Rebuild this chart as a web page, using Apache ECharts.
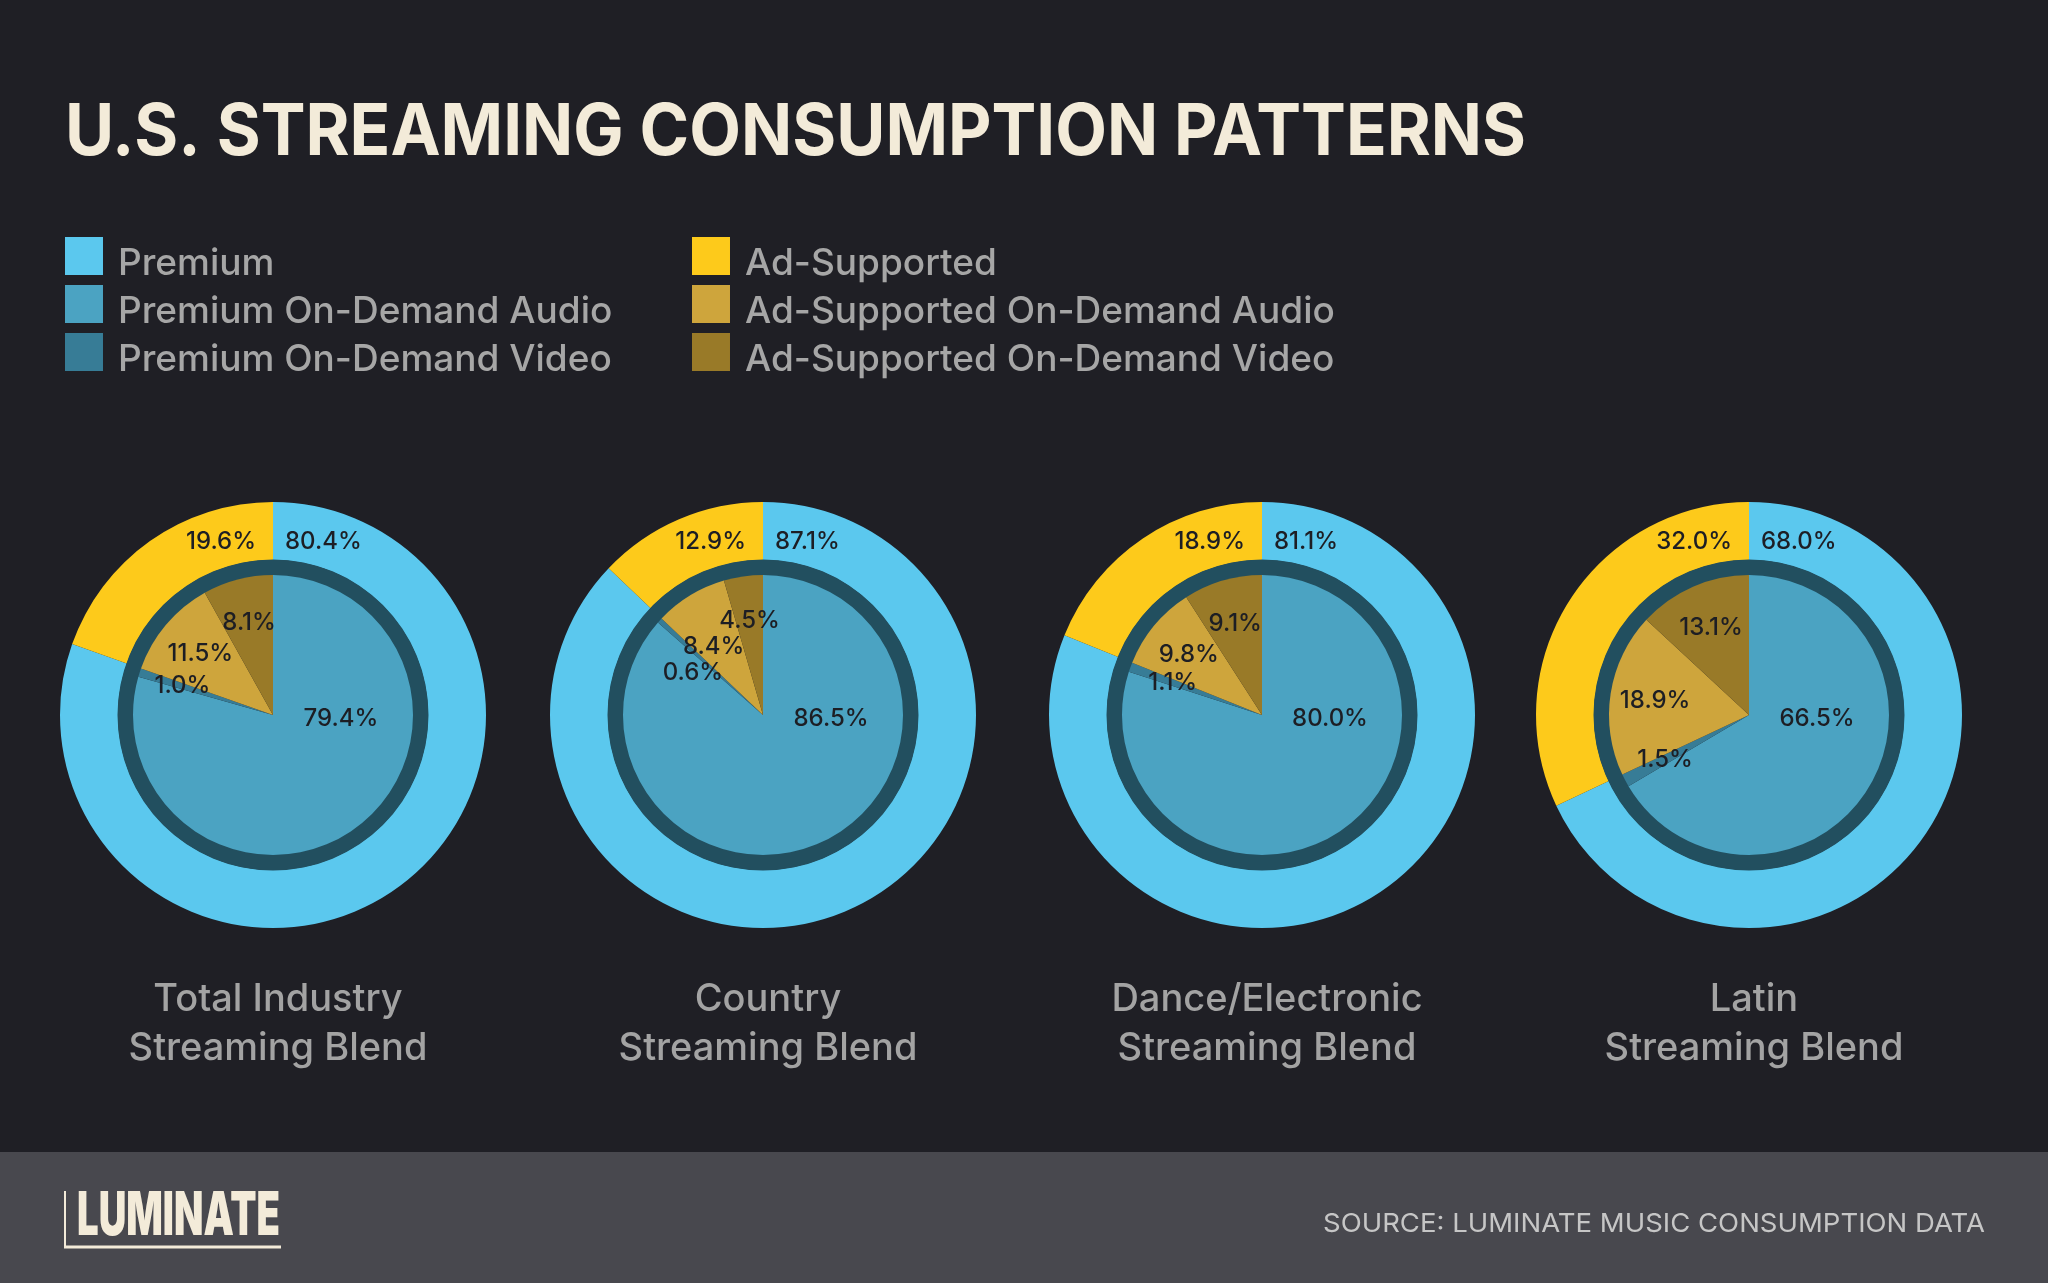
<!DOCTYPE html>
<html><head><meta charset="utf-8">
<script src="https://cdn.jsdelivr.net/npm/echarts@6/dist/echarts.min.js"></script>
<style>html,body{margin:0;padding:0;background:#1f1f25;}#chart{width:2048px;height:1283px;}</style>
</head><body><div id="chart"></div>
<script>
// ---- data ----
const categories = ['Total Industry\nStreaming Blend', 'Country\nStreaming Blend', 'Dance/Electronic\nStreaming Blend', 'Latin\nStreaming Blend'];
const outerNames = ['Premium', 'Ad-Supported'];
const innerNames = ['Premium On-Demand Audio', 'Premium On-Demand Video', 'Ad-Supported On-Demand Audio', 'Ad-Supported On-Demand Video'];
const premium = [80.4, 87.1, 81.1, 68.0];
const adSupported = [19.6, 12.9, 18.9, 32.0];
const premiumAudio = [79.4, 86.5, 80.0, 66.5];
const premiumVideo = [1.0, 0.6, 1.1, 1.5];
const adAudio = [11.5, 8.4, 9.8, 18.9];
const adVideo = [8.1, 4.5, 9.1, 13.1];
const titleText = 'U.S. STREAMING CONSUMPTION PATTERNS';
const sourceText = 'SOURCE: LUMINATE MUSIC CONSUMPTION DATA';
const logoText = 'LUMINATE';

// ---- style ----
const COL = {
  bg: '#1f1f25', footer: '#48484e', cream: '#f3ebd9', legendText: '#a6a6a6', catText: '#a3a3a3',
  label: '#1d1e24', ring: '#224f5f', source: '#c6c6c6',
  outer: ['#5bc8ee', '#fdca1b'],
  inner: ['#4ba3c2', '#377c96', '#cea53c', '#997a28']
};
const FONT = 'Inter, "Noto Sans", sans-serif';
const CX = [273, 763, 1262, 1749];
const CY = 715;
const R_IN = 140, R_RING = 155, R_OUT = 213;
const LABEL_R = 95, LABEL_H = 26;

const mctx = document.createElement('canvas').getContext('2d');
function measure(text, font) { mctx.font = font; return mctx.measureText(text).width; }

const pct = v => v.toFixed(1) + '%';
const labelStyle = { color: COL.label, fontSize: 24, fontWeight: 500, fontFamily: FONT };
const labelFont = `500 24px ${FONT}`;

// place small-slice labels at their mid-angle, then push overlapping ones downward (per donut)
function smallLabelPositions(vals, cx) {
  const total = vals.reduce((a, b) => a + b, 0);
  const pos = {};
  let cum = 0;
  const list = [];
  vals.forEach((v, k) => {
    const a = (cum + v / 2) / total * 2 * Math.PI;
    cum += v;
    if (k === 0) return;
    list.push({ k, x: cx + LABEL_R * Math.sin(a), y: CY - LABEL_R * Math.cos(a), w: measure(pct(v), labelFont) });
  });
  list.sort((p, q) => p.y - q.y);
  for (let i = 1; i < list.length; i++) {
    for (let j = 0; j < i; j++) {
      const p = list[j], q = list[i];
      if (Math.abs(p.x - q.x) < (p.w + q.w) / 2 && q.y - p.y < LABEL_H) q.y = p.y + LABEL_H;
    }
  }
  list.forEach(p => { pos[p.k] = p; });
  return pos;
}

const series = [];
categories.forEach((cat, d) => {
  const cx = CX[d];
  const innerVals = [premiumAudio[d], premiumVideo[d], adAudio[d], adVideo[d]];
  const smallPos = smallLabelPositions(innerVals, cx);
  series.push({
    type: 'pie', name: 'outer' + d, center: [cx, CY], radius: [R_RING, R_OUT],
    startAngle: 90, clockwise: true, avoidLabelOverlap: false, emphasis: { disabled: true },
    itemStyle: { borderWidth: 0 },
    label: Object.assign({ show: true, position: 'inside', formatter: p => pct(p.value) }, labelStyle),
    labelLine: { show: false },
    labelLayout: p => p.dataIndex === 0
      ? { x: cx + 12, y: CY - 173, align: 'left', verticalAlign: 'middle' }
      : { x: cx - 17, y: CY - 173, align: 'right', verticalAlign: 'middle' },
    data: [
      { name: outerNames[0], value: premium[d], itemStyle: { color: COL.outer[0] } },
      { name: outerNames[1], value: adSupported[d], itemStyle: { color: COL.outer[1] } }
    ]
  });
  series.push({
    type: 'pie', name: 'ring' + d, center: [cx, CY], radius: [R_IN - 1, R_RING + 0.5],
    silent: true, emphasis: { disabled: true }, label: { show: false }, labelLine: { show: false },
    itemStyle: { borderWidth: 0, color: COL.ring },
    data: [{ name: '', value: 1 }]
  });
  series.push({
    type: 'pie', name: 'inner' + d, center: [cx, CY], radius: [0, R_IN],
    startAngle: 90, clockwise: true, avoidLabelOverlap: false, emphasis: { disabled: true },
    itemStyle: { borderWidth: 0 },
    label: Object.assign({ show: true, position: 'inside', formatter: p => pct(p.value) }, labelStyle),
    labelLine: { show: false },
    labelLayout: p => {
      if (p.dataIndex === 0) return { x: cx + 68, y: CY + 4, align: 'center', verticalAlign: 'middle' };
      const s = smallPos[p.dataIndex];
      return { x: s.x, y: s.y, align: 'center', verticalAlign: 'middle' };
    },
    data: innerNames.map((n, k) => ({ name: n, value: innerVals[k], itemStyle: { color: COL.inner[k] } }))
  });
});

const titleFont = `700 72px ${FONT}`;
const titleScale = 1461 / measure(titleText, titleFont);
const logoFont = `900 60px ${FONT}`;
const logoScale = 203 / measure(logoText, logoFont);
const srcFont = `400 26px ${FONT}`;
const srcScale = 662 / measure(sourceText, srcFont);

const graphic = [
  { type: 'rect', shape: { x: 0, y: 1152, width: 2048, height: 131 }, style: { fill: COL.footer }, silent: true, z: 0 },
  { type: 'text', x: 65, y: 133, scaleX: titleScale, style: { text: titleText, font: titleFont, fill: COL.cream, align: 'left', verticalAlign: 'middle' } },
  { type: 'text', x: 77, y: 1217, scaleX: logoScale, style: { text: logoText, font: logoFont, fill: COL.cream, align: 'left', verticalAlign: 'middle' } },
  { type: 'line', shape: { x1: 65, y1: 1191, x2: 65, y2: 1248 }, style: { stroke: COL.cream, lineWidth: 2 } },
  { type: 'line', shape: { x1: 64, y1: 1247, x2: 281, y2: 1247 }, style: { stroke: COL.cream, lineWidth: 3 } },
  { type: 'text', x: 1985, y: 1224, scaleX: srcScale, style: { text: sourceText, font: srcFont, fill: COL.source, align: 'right', verticalAlign: 'middle' } }
];
categories.forEach((cat, d) => {
  graphic.push({ type: 'text', x: CX[d] + 5, y: 1024, style: { text: cat, font: `500 38px ${FONT}`, lineHeight: 49, fill: COL.catText, align: 'center', verticalAlign: 'middle' } });
});

// swatch sits in the upper part of a taller icon box, so the label lines up with its lower edge
const swatchIcon = 'path://M0,0H38V38H0Z M0,54H0.01V54.01H0Z';
const legendBase = {
  orient: 'vertical', top: 237, padding: 0, itemWidth: 38, itemHeight: 54, itemGap: -6, icon: swatchIcon,
  selectedMode: false,
  textStyle: { color: COL.legendText, fontSize: 37, fontWeight: 500, fontFamily: FONT, padding: [0, 0, 0, 10] }
};

const chart = echarts.init(document.getElementById('chart'), null, { renderer: 'canvas' });
chart.setOption({
  backgroundColor: COL.bg,
  animation: false,
  legend: [
    Object.assign({ left: 65, data: [outerNames[0], innerNames[0], innerNames[1]] }, legendBase),
    Object.assign({ left: 692, data: [outerNames[1], innerNames[2], innerNames[3]] }, legendBase)
  ],
  graphic: graphic,
  series: series
});
</script>
</body></html>
